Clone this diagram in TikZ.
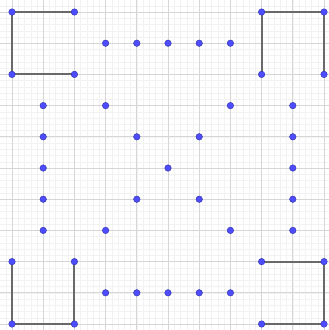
\documentclass[tikz,border=0pt]{standalone}
\definecolor{minorgrid}{RGB}{242,242,242}
\definecolor{majorgrid}{RGB}{214,214,214}
\definecolor{dotfill}{RGB}{77,77,255}
\definecolor{dotline}{RGB}{40,40,150}
\definecolor{segcol}{RGB}{105,105,105}
\tikzset{
  dot/.style={circle,fill=dotfill,draw=dotline,line width=0.3pt,inner sep=0pt,minimum size=6pt},
  seg/.style={draw=segcol,line width=1.8pt,line cap=round,line join=round}
}
\begin{document}
\begin{tikzpicture}[x=1cm,y=-1cm]
\useasboundingbox (-0.385,-0.385) rectangle (10.16,10.192);
\begin{scope}
\clip (-0.385,-0.385) rectangle (10.16,10.192);
\foreach \k in {-5,...,55} {
  \draw[minorgrid,line width=0.4pt] (\k*0.2,-1) -- (\k*0.2,11);
  \draw[minorgrid,line width=0.4pt] (-1,\k*0.2) -- (11,\k*0.2);
}
\foreach \k in {-1,...,11} {
  \draw[majorgrid,line width=0.6pt] (\k,-1) -- (\k,11);
  \draw[majorgrid,line width=0.6pt] (-1,\k) -- (11,\k);
}
\end{scope}
% corner squares
\foreach \n/\x/\y in {a1/0/0,a2/2/0,a3/0/2,a4/2/2,
                      b1/8/0,b2/10/0,b3/8/2,b4/10/2,
                      c1/0/8,c2/2/8,c3/0/10,c4/2/10,
                      d1/8/8,d2/10/8,d3/8/10,d4/10/10}
  \coordinate (\n) at (\x,\y);
\draw[seg] (a2) -- (a1) -- (a3) -- (a4);
\draw[seg] (b3) -- (b1) -- (b2) -- (b4);
\draw[seg] (c1) -- (c3) -- (c4) -- (c2);
\draw[seg] (d1) -- (d2) -- (d4) -- (d3);
\foreach \n in {a1,a2,a3,a4,b1,b2,b3,b4,c1,c2,c3,c4,d1,d2,d3,d4}
  \node[dot] (p\n) at (\n) {};
% other points
\foreach \x/\y [count=\i] in {3/1,4/1,5/1,6/1,7/1,
  1/3,3/3,7/3,9/3,
  1/4,4/4,6/4,9/4,
  1/5,5/5,9/5,
  1/6,4/6,6/6,9/6,
  1/7,3/7,7/7,9/7,
  3/9,4/9,5/9,6/9,7/9}
  \node[dot] (q\i) at (\x,\y) {};
\end{tikzpicture}
\end{document}
